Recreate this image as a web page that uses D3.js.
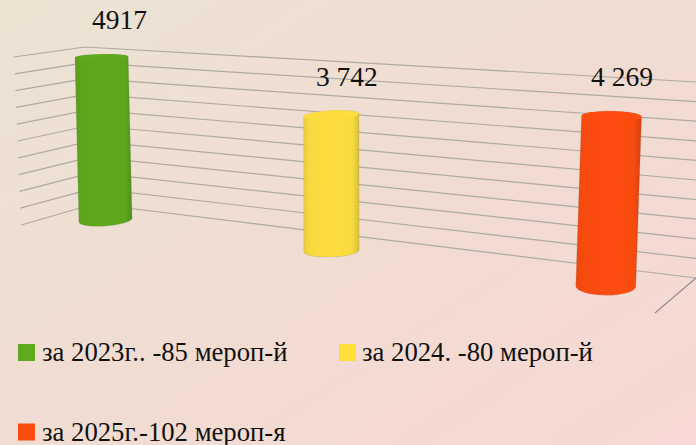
<!DOCTYPE html>
<html>
<head>
<meta charset="utf-8">
<script src="https://cdn.jsdelivr.net/npm/d3@7"></script>
<style>
  html, body { margin: 0; padding: 0; background: #f0dcd2; }
  svg { display: block; }
  text { font-family: "Liberation Serif", serif; fill: #111; }
</style>
</head>
<body>
<svg id="chart" width="696" height="445"></svg>
<script>
const categories = ['2023', '2024', '2025'];
const values = [4917, 3742, 4269];
const valueLabels = ['4917', '3 742', '4 269'];
const legendLabels = ['за 2023г.. -85 мероп-й', 'за 2024. -80 мероп-й', 'за 2025г.-102 мероп-я'];
const colors = ['#5fa91d', '#ffde38', '#fd4c0f'];
const gridTicks = d3.range(0, 5001, 500);

const svg = d3.select('#chart');
const defs = svg.append('defs');

// фон
const bg = defs.append('linearGradient').attr('id', 'bg')
  .attr('x1', 0).attr('y1', 0).attr('x2', 1).attr('y2', 1);
bg.append('stop').attr('offset', 0).attr('stop-color', '#ece3d3');
bg.append('stop').attr('offset', 0.55).attr('stop-color', '#f1dcd2');
bg.append('stop').attr('offset', 1).attr('stop-color', '#f8d8d4');
svg.append('rect').attr('width', 696).attr('height', 445).attr('fill', 'url(#bg)');

// стенки: три линейки значений в перспективе
const v = [0, 5000];
const wall = {
  leftX: d3.scaleLinear(v, [21, 14]),
  leftY: d3.scaleLinear(v, [225, 57]),
  cornerX: d3.scaleLinear(v, [94, 85]),
  cornerY: d3.scaleLinear(v, [204, 47]),
  rightX: d3.scaleLinear(v, [696, 696]),
  rightY: d3.scaleLinear(v, [278, 82])
};

const gridLine = d3.line();
svg.append('g').selectAll('path')
  .data(gridTicks)
  .enter()
  .append('path')
  .attr('d', t => gridLine([
    [wall.leftX(t), wall.leftY(t)],
    [wall.cornerX(t), wall.cornerY(t)],
    [wall.rightX(t), wall.rightY(t)]
  ]))
  .attr('fill', 'none')
  .attr('stroke', '#aeaaa4')
  .attr('stroke-width', 1.2);

// край пола справа
svg.append('line')
  .attr('x1', wall.rightX(0)).attr('y1', wall.rightY(0))
  .attr('x2', 655).attr('y2', 313)
  .attr('stroke', '#8e8e8e')
  .attr('stroke-width', 1.2);

// цилиндры: у каждого свой масштаб из-за перспективы
const baseX = d3.scaleOrdinal(categories, [105.5, 331.5, 605.8]);
const baseY = d3.scaleOrdinal(categories, [220, 251, 286.3]);
const fullHeight = d3.scaleOrdinal(categories, [165.8, 181.7, 199]);
const fullLean = d3.scaleOrdinal(categories, [-4, -0.2, 6.7]);
const halfWidth = d3.scaleOrdinal(categories, [26.6, 27.6, 30]);
const bottomRy = d3.scaleOrdinal(categories, [6, 6, 9]);
const topRy = d3.scaleOrdinal(categories, [2.6, 4.4, 5.2]);
const bottomTilt = d3.scaleOrdinal(categories, [-4, -2, 0.5]);
const topTilt = d3.scaleOrdinal(categories, [-1, -3, 1]);
const opacity = d3.scaleOrdinal(categories, [1, 0.95, 1]);

const bars = categories.map((c, i) => {
  const h = d3.scaleLinear(v, [0, fullHeight(c)])(values[i]);
  const lean = d3.scaleLinear(v, [0, fullLean(c)])(values[i]);
  return {
    id: c,
    color: colors[i],
    label: valueLabels[i],
    bx: baseX(c),
    by: baseY(c),
    tx: baseX(c) + lean,
    ty: baseY(c) - h,
    w: halfWidth(c)
  };
});

bars.forEach(b => {
  const g = defs.append('linearGradient').attr('id', `side-${b.id}`);
  const stops = [[0, 0.18], [0.12, 0.06], [0.5, 0], [0.88, 0.05], [1, 0.45]];
  stops.forEach(s => {
    g.append('stop')
      .attr('offset', s[0])
      .attr('stop-color', d3.color(b.color).darker(s[1]).formatHex());
  });
});

function sidePath(b) {
  const bt = bottomTilt(b.id) / 2, tt = topTilt(b.id) / 2;
  const bRot = Math.atan2(bt * 2, b.w * 2) * 180 / Math.PI;
  const tRot = Math.atan2(tt * 2, b.w * 2) * 180 / Math.PI;
  return `M${b.tx - b.w},${b.ty - tt}` +
    `L${b.bx - b.w},${b.by - bt}` +
    `A${b.w},${bottomRy(b.id)} ${bRot} 0 0 ${b.bx + b.w},${b.by + bt}` +
    `L${b.tx + b.w},${b.ty + tt}` +
    `A${b.w},${topRy(b.id)} ${tRot} 0 0 ${b.tx - b.w},${b.ty - tt}Z`;
}

const barG = svg.append('g').selectAll('g')
  .data(bars)
  .enter()
  .append('g')
  .attr('opacity', d => opacity(d.id));

barG.append('path')
  .attr('d', sidePath)
  .attr('fill', d => `url(#side-${d.id})`)
  .attr('stroke', '#8a8a80')
  .attr('stroke-opacity', 0.3)
  .attr('stroke-width', 0.8);

barG.append('ellipse')
  .attr('cx', d => d.tx)
  .attr('cy', d => d.ty)
  .attr('rx', d => d.w)
  .attr('ry', d => topRy(d.id))
  .attr('transform', d => `rotate(${Math.atan2(topTilt(d.id), d.w * 2) * 180 / Math.PI} ${d.tx} ${d.ty})`)
  .attr('fill', d => d.color);

// подписи значений
const labelDx = d3.scaleOrdinal(categories, [18, 15.5, 10.5]);
svg.append('g').selectAll('text')
  .data(bars)
  .enter()
  .append('text')
  .attr('x', d => d.tx + labelDx(d.id))
  .attr('y', d => d.ty - topRy(d.id) - 25)
  .attr('text-anchor', 'middle')
  .style('font-size', '27.5px')
  .text(d => d.label);

// легенда
const legendX = d3.scaleOrdinal(categories, [18, 339, 18]);
const legendY = d3.scaleOrdinal(categories, [344, 344, 423.5]);
const legend = svg.append('g').selectAll('g')
  .data(categories)
  .enter()
  .append('g')
  .attr('transform', c => `translate(${legendX(c)},${legendY(c)})`);

legend.append('rect')
  .attr('width', 17)
  .attr('height', 17)
  .attr('fill', (c, i) => colors[i]);

legend.append('text')
  .attr('x', (c, i) => i === 1 ? 23 : 24)
  .attr('y', 17)
  .style('font-size', '26.7px')
  .text((c, i) => legendLabels[i]);
</script>
</body>
</html>
